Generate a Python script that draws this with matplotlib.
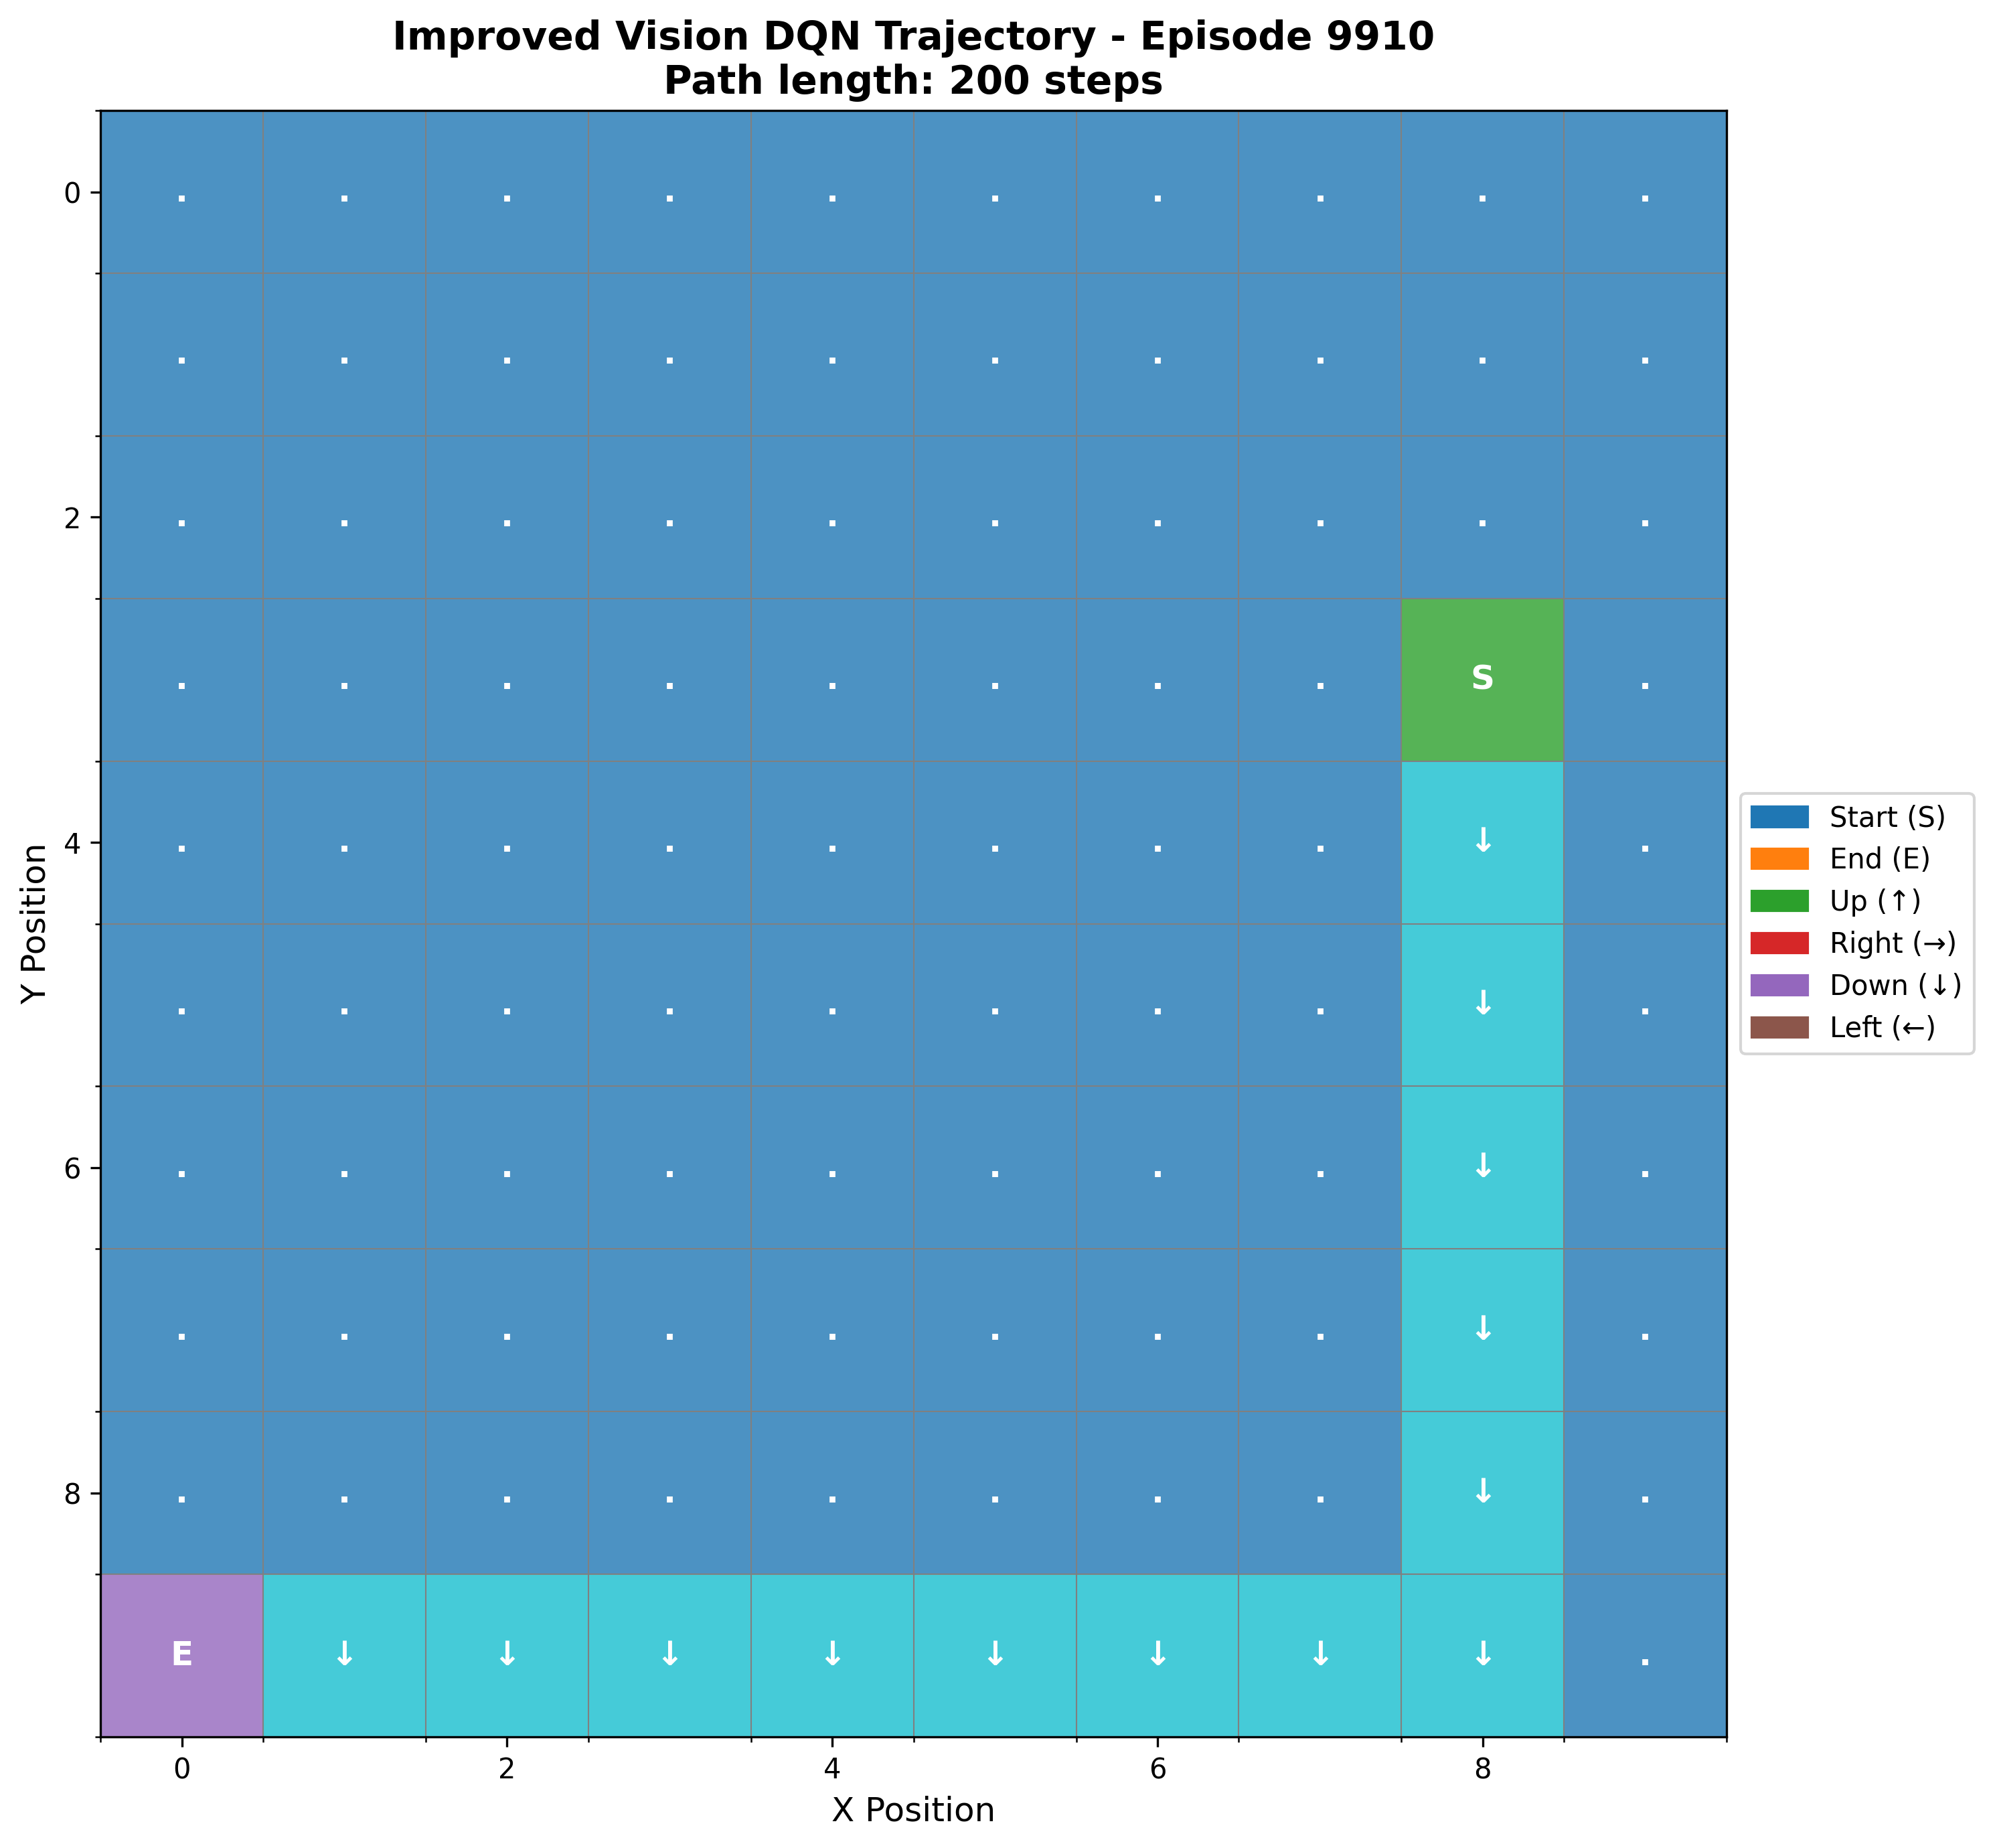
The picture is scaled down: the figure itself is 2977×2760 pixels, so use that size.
import matplotlib
matplotlib.use('Agg')
import numpy as np
import matplotlib.pyplot as plt
import matplotlib.patches as mpatches

# Grid / trajectory data
grid_size = 10
episode = 9910
path_length = 200
start = (8, 3)   # (x, y)
end = (0, 9)
# cells visited between start and end (x, y), all labelled with the down arrow
path_cells = [(8, 4), (8, 5), (8, 6), (8, 7), (8, 8), (8, 9),
              (7, 9), (6, 9), (5, 9), (4, 9), (3, 9), (2, 9), (1, 9)]
path_symbol = '↓'

# colour codes into tab10
BG, START, END, PATH = 0, 2, 4, 9

legend_labels = ['Start (S)', 'End (E)', 'Up (↑)', 'Right (→)', 'Down (↓)', 'Left (←)']
legend_colors = ['tab:blue', 'tab:orange', 'tab:green', 'tab:red', 'tab:purple', 'tab:brown']

grid = np.full((grid_size, grid_size), BG)
for x, y in path_cells:
    grid[y, x] = PATH
grid[start[1], start[0]] = START
grid[end[1], end[0]] = END

fig = plt.figure(figsize=(2978 / 300, 2760 / 300), dpi=300)
ax = fig.add_axes([0.0504, 0.0601, 0.8157, 0.8801])
ax.imshow(grid, cmap='tab10', vmin=0, vmax=9, alpha=0.8)

for y in range(grid_size):
    for x in range(grid_size):
        if (x, y) == start:
            ax.text(x, y, 'S', ha='center', va='center', color='white',
                    fontsize=12, fontweight='bold')
        elif (x, y) == end:
            ax.text(x, y, 'E', ha='center', va='center', color='white',
                    fontsize=12, fontweight='bold')
        elif (x, y) in path_cells:
            ax.text(x, y, path_symbol, ha='center', va='center', color='white',
                    fontsize=12, fontweight='bold')
        else:
            ax.text(x, y, '.', ha='center', va='center', color='white',
                    fontsize=12, fontweight='bold')

ax.set_xticks(np.arange(0, grid_size, 2))
ax.set_yticks(np.arange(0, grid_size, 2))
ax.set_xticks(np.arange(-0.5, grid_size, 1), minor=True)
ax.set_yticks(np.arange(-0.5, grid_size, 1), minor=True)
ax.grid(which='minor', color='gray', linewidth=0.5)

ax.set_xlabel('X Position', fontsize=12)
ax.set_ylabel('Y Position', fontsize=12)
ax.set_title(f'Improved Vision DQN Trajectory - Episode {episode}\nPath length: {path_length} steps',
             fontsize=14, fontweight='bold')

handles = [mpatches.Patch(color=c, label=l) for c, l in zip(legend_colors, legend_labels)]
ax.legend(handles=handles, loc='center left', bbox_to_anchor=(1.0, 0.5))

plt.savefig('out.png', dpi=300)
